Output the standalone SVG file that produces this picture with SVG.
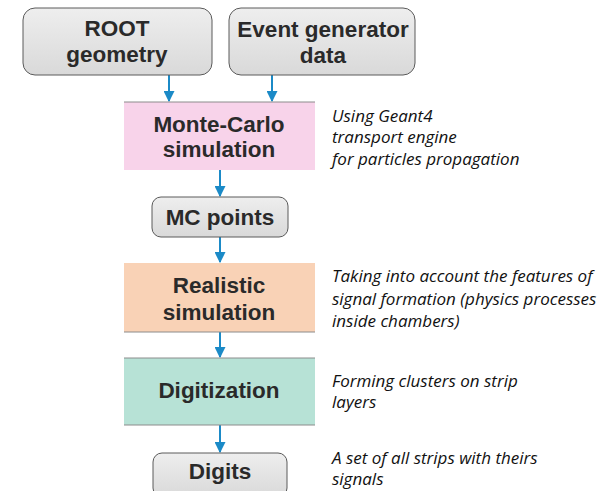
<svg xmlns="http://www.w3.org/2000/svg" width="611" height="491" viewBox="0 0 611 491">
<defs>
<linearGradient id="grey" x1="0" y1="0" x2="0" y2="1">
<stop offset="0" stop-color="#eeeeee"/>
<stop offset="1" stop-color="#d9d9d9"/>
</linearGradient>
<marker id="ah" viewBox="0 0 10 10" refX="9" refY="5" markerWidth="5.5" markerHeight="5.5" orient="auto" markerUnits="strokeWidth">
<path d="M0,0 L10,5 L0,10 z" fill="#1b8ac7"/>
</marker>
</defs>
<style>
.gbox{fill:url(#grey);stroke:#5a5a5a;stroke-width:1}
.band{stroke:none}
.edge{stroke:#8c8c8c;stroke-width:1}
.lbl{font-family:"Liberation Sans",Arial,sans-serif;font-weight:bold;font-size:22.5px;fill:#2a2a2a;text-anchor:middle}
.note{font-family:"Open Sans","Liberation Sans",sans-serif;font-style:italic;font-size:17px;fill:#111}
.conn{stroke:#1b8ac7;stroke-width:2;fill:none;marker-end:url(#ah)}
</style>
<rect width="611" height="491" fill="#ffffff"/>
<g id="connectors">
<line class="conn" x1="169" y1="75" x2="169" y2="101"/>
<line class="conn" x1="272" y1="75" x2="272" y2="101"/>
<line class="conn" x1="220" y1="170" x2="220" y2="196"/>
<line class="conn" x1="220" y1="237" x2="220" y2="262"/>
<line class="conn" x1="220" y1="332" x2="220" y2="357"/>
<line class="conn" x1="220" y1="425" x2="220" y2="452"/>
</g>
<g id="root">
<rect class="gbox" x="23" y="8" width="189" height="67" rx="12"/>
<text class="lbl" x="117" y="36">ROOT</text>
<text class="lbl" x="117" y="62">geometry</text>
</g>
<g id="event">
<rect class="gbox" x="229" y="8" width="186" height="67" rx="12"/>
<text class="lbl" x="323" y="37">Event generator</text>
<text class="lbl" x="323" y="63">data</text>
</g>
<g id="mc">
<rect class="band" x="124" y="102" width="191" height="68" fill="#f8d3ea"/>
<line class="edge" x1="124" y1="102" x2="315" y2="102"/>
<text class="lbl" x="219" y="132">Monte-Carlo</text>
<text class="lbl" x="219" y="157">simulation</text>
</g>
<g id="mcpoints">
<rect class="gbox" x="152" y="197" width="136" height="40" rx="9"/>
<text class="lbl" x="220" y="225">MC points</text>
</g>
<g id="realistic">
<rect class="band" x="124" y="263" width="191" height="69" fill="#f9d2b6"/>
<line class="edge" x1="124" y1="332" x2="315" y2="332"/>
<text class="lbl" x="219" y="293">Realistic</text>
<text class="lbl" x="219" y="320">simulation</text>
</g>
<g id="digitization">
<rect class="band" x="124" y="358" width="191" height="67" fill="#b7e2d6"/>
<line class="edge" x1="124" y1="358" x2="315" y2="358"/>
<line class="edge" x1="124" y1="425" x2="315" y2="425"/>
<text class="lbl" x="219" y="398">Digitization</text>
</g>
<g id="digits">
<rect class="gbox" x="153" y="453" width="134" height="44" rx="9"/>
<text class="lbl" x="220" y="479">Digits</text>
</g>
<g id="notes">
<text class="note" x="332" y="122">Using Geant4</text>
<text class="note" x="332" y="143">transport engine</text>
<text class="note" x="332" y="165">for particles propagation</text>
<text class="note" x="332" y="282">Taking into account the features of</text>
<text class="note" x="332" y="305">signal formation (physics processes</text>
<text class="note" x="332" y="327">inside chambers)</text>
<text class="note" x="332" y="387">Forming clusters on strip</text>
<text class="note" x="332" y="408">layers</text>
<text class="note" x="332" y="464">A set of all strips with theirs</text>
<text class="note" x="332" y="485">signals</text>
</g>
</svg>
